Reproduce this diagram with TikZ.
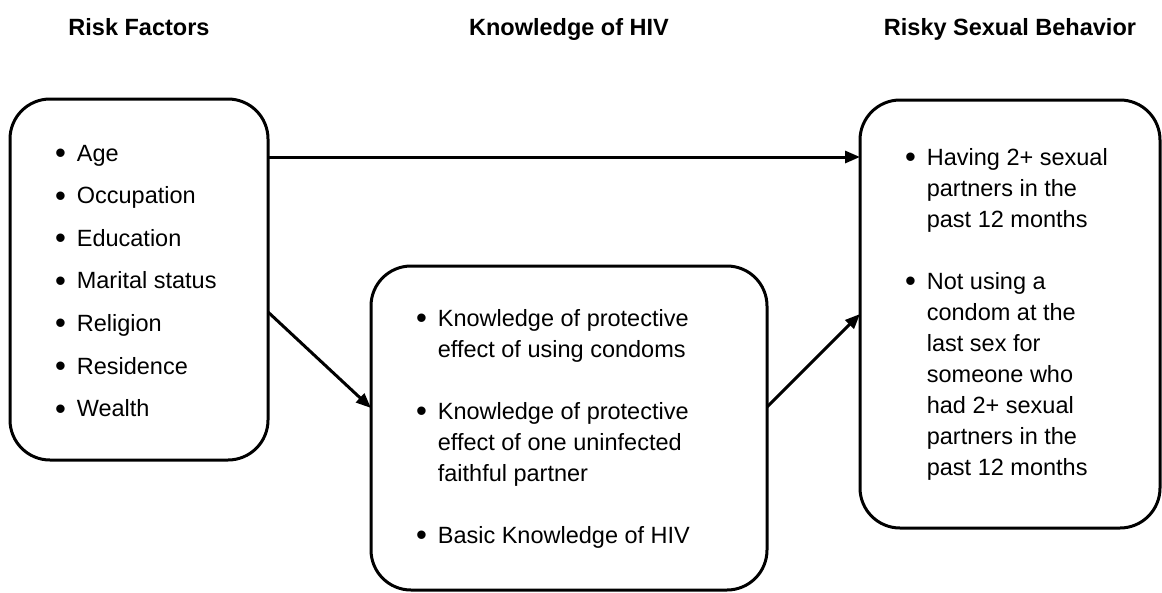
\documentclass[tikz,border=0pt]{standalone}
\usepackage{fontspec}
\setmainfont{Liberation Sans}
\usepackage{tikz}
\usetikzlibrary{positioning,arrows.meta}
\tikzset{
  hivpic/.style={
    x=1pt,y=-1pt
    ,inner sep=0pt
    ,outer sep=0pt
  }
  ,heading/.style={font=\bfseries\fontsize{23.5pt}{28pt}\selectfont
    ,text height=17pt,text depth=5pt}
  ,panel/.style={rectangle,rounded corners=40pt,draw=black,line width=3pt}
  ,items/.style={anchor=base west,font=\fontsize{23.5pt}{31pt}\selectfont}
  ,wideitems/.style={items,font=\fontsize{23.5pt}{42.6pt}\selectfont}
  ,link/.style={line width=3pt,-{Triangle[length=15pt,width=12pt]}}
}
\newcommand\bul{\raisebox{-2.4pt}{\fontsize{31pt}{31pt}\selectfont\textbullet}}
\newcommand\bulletlist[1]{\begin{tabular}[t]{@{}l@{\hspace{11pt}}l@{}}#1\end{tabular}}

\begin{document}
\begin{tikzpicture}[hivpic]
  \useasboundingbox (0,0) rectangle (1162,592);
  % the three boxes
  \node[panel,minimum width=258pt,minimum height=361pt] (risk) at (139,279.5) {};
  \node[panel,minimum width=396pt,minimum height=324pt] (know) at (569,428) {};
  \node[panel,minimum width=300pt,minimum height=428pt] (behav) at (1010,314) {};
  % headings
  \node[heading,above=59pt of risk] (riskHead) {Risk Factors};
  \node[heading] (knowHead) at (know.north |- riskHead) {Knowledge of HIV};
  \node[heading] (behavHead) at (behav.north |- riskHead) {Risky Sexual Behavior};
  % lists
  \node[wideitems] (riskList) at ([shift={(45,62)}]risk.north west) {\bulletlist{
    \bul & Age\\
    \bul & Occupation\\
    \bul & Education\\
    \bul & Marital status\\
    \bul & Religion\\
    \bul & Residence\\
    \bul & Wealth}};
  \node[items] (knowList) at ([shift={(45,60)}]know.north west) {\bulletlist{
    \bul & Knowledge of protective\\
         & effect of using condoms\\[31pt]
    \bul & Knowledge of protective\\
         & effect of one uninfected\\
         & faithful partner\\[31pt]
    \bul & Basic Knowledge of HIV}};
  \node[items] (behavList) at ([shift={(45,65)}]behav.north west) {\bulletlist{
    \bul & Having 2+ sexual\\
         & partners in the\\
         & past 12 months\\[31pt]
    \bul & Not using a\\
         & condom at the\\
         & last sex for\\
         & someone who\\
         & had 2+ sexual\\
         & partners in the\\
         & past 12 months}};
  % arrows
  \draw[link] ([yshift=-58pt]risk.north east) -- ([yshift=-57pt]behav.north west);
  \draw[link] ([yshift=-213pt]risk.north east) -- ([yshift=-142pt]know.north west);
  \draw[link] ([yshift=-141pt]know.north east) -- (behav.west);
\end{tikzpicture}
\end{document}
